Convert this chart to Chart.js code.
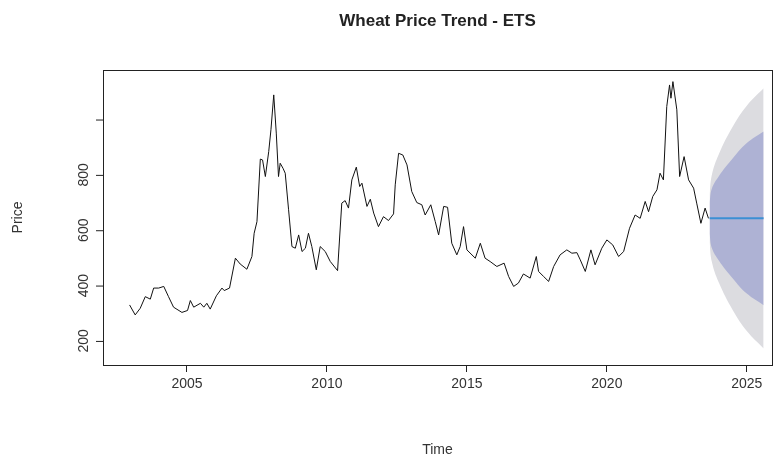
<!DOCTYPE html>
<html>
<head>
<meta charset="utf-8">
<script src="https://cdn.jsdelivr.net/npm/chart.js@4"></script>
<style>
  html, body { margin: 0; padding: 0; background: #fff; }
  canvas { display: block; }
</style>
</head>
<body>
<canvas id="c" width="778" height="461"></canvas>
<script>
/* ─── Data ─── */
const histYears = [2002.95,2003.15,2003.33,2003.51,2003.69,2003.81,2003.99,2004.17,2004.34,2004.52,2004.82,2005.02,2005.12,2005.24,2005.48,2005.6,2005.71,2005.83,2006.05,2006.25,2006.33,2006.52,2006.73,2006.9,2007.14,2007.32,2007.4,2007.5,2007.62,2007.7,2007.8,2007.92,2008.0,2008.1,2008.19,2008.27,2008.33,2008.43,2008.51,2008.63,2008.75,2008.87,2008.99,2009.11,2009.23,2009.34,2009.46,2009.62,2009.76,2009.94,2010.12,2010.38,2010.53,2010.65,2010.77,2010.89,2011.05,2011.17,2011.25,2011.43,2011.55,2011.67,2011.84,2012.02,2012.2,2012.38,2012.44,2012.56,2012.71,2012.86,2013.03,2013.21,2013.39,2013.51,2013.71,2013.87,2013.99,2014.17,2014.31,2014.46,2014.64,2014.76,2014.88,2015.0,2015.3,2015.48,2015.65,2015.83,2016.07,2016.33,2016.49,2016.67,2016.84,2017.02,2017.26,2017.48,2017.56,2017.74,2017.92,2018.1,2018.33,2018.57,2018.75,2018.93,2019.05,2019.23,2019.43,2019.58,2019.82,2020.0,2020.21,2020.42,2020.6,2020.81,2021.01,2021.19,2021.37,2021.49,2021.64,2021.79,2021.9,2022.02,2022.14,2022.24,2022.29,2022.36,2022.5,2022.6,2022.76,2022.92,2023.1,2023.21,2023.36,2023.51,2023.63];
const histPrice = [330,294,318,360,351,391,391,397,360,322,303,310,346,322,336,322,336,315,363,391,382,391,499,478,459,505,589,631,857,854,794,884,963,1089,951,794,842,824,806,674,541,535,583,523,535,589,541,457,541,523,487,454,698,707,680,782,828,758,770,686,712,662,613,649,635,659,764,878,872,836,740,700,692,655,692,631,583,686,683,553,511,541,613,529,499,553,499,487,469,481,433,397,409,442,427,505,451,433,415,469,511,529,517,519,493,451,529,475,535,565,547,505,523,607,655,643,704,667,722,746,806,782,1047,1125,1077,1137,1035,794,866,782,752,698,625,680,643];

const fcYears = [2023.67,2023.75,2024.0,2024.5,2025.0,2025.6];
const fcMean  = [643,643,643,643,643,643];
const hi80    = [700,750,795,860,915,957];
const lo80    = [586,536,491,426,371,329];
const hi95    = [730,800,875,975,1050,1113];
const lo95    = [556,486,411,311,236,173];

const xTicks = [2005,2010,2015,2020,2025];
const yTicks = [200,400,600,800,1000];
const yLabels = ['200','400','600','800',''];

const pts = (xs, ys) => xs.map((x, i) => ({ x, y: ys[i] }));
const FONT = "'Liberation Sans', Arial, sans-serif";

/* ─── R-style frame, title, rotated y labels ─── */
const rFrame = {
  id: 'rFrame',
  afterDraw(chart) {
    const { ctx, chartArea: a, scales: { y } } = chart;
    ctx.save();
    ctx.strokeStyle = '#222'; ctx.lineWidth = 1;
    ctx.strokeRect(a.left + 0.5, a.top + 0.5, a.right - a.left, a.bottom - a.top);
    ctx.fillStyle = '#222';
    ctx.font = `bold 17px ${FONT}`;
    ctx.textAlign = 'center'; ctx.textBaseline = 'middle';
    ctx.fillText('Wheat Price Trend - ETS', (a.left + a.right) / 2, 21);
    ctx.font = `14px ${FONT}`;
    ctx.fillStyle = '#333';
    ctx.fillText('Time', (a.left + a.right) / 2, 450);
    yTicks.forEach((v, i) => {
      const py = y.getPixelForValue(v);
      ctx.beginPath(); ctx.moveTo(a.left, py + 0.5); ctx.lineTo(a.left - 7, py + 0.5); ctx.stroke();
      if (!yLabels[i]) return;
      ctx.save(); ctx.translate(84, py); ctx.rotate(-Math.PI / 2);
      ctx.fillText(yLabels[i], 0, 0); ctx.restore();
    });
    ctx.save(); ctx.translate(18, (a.top + a.bottom) / 2); ctx.rotate(-Math.PI / 2);
    ctx.fillText('Price', 0, 0); ctx.restore();
    ctx.restore();
  }
};

new Chart(document.getElementById('c'), {
  type: 'line',
  data: {
    datasets: [
      { order: 4, data: pts(fcYears, hi95), borderWidth: 0, pointRadius: 0, fill: '+1', backgroundColor: '#dcdce0', tension: 0.4 },
      { order: 4, data: pts(fcYears, lo95), borderWidth: 0, pointRadius: 0, fill: false, tension: 0.4 },
      { order: 3, data: pts(fcYears, hi80), borderWidth: 0, pointRadius: 0, fill: '+1', backgroundColor: '#aeb2d4', tension: 0.4 },
      { order: 3, data: pts(fcYears, lo80), borderWidth: 0, pointRadius: 0, fill: false, tension: 0.4 },
      { order: 1, data: pts(fcYears, fcMean), borderColor: '#3b8fd4', borderWidth: 2, pointRadius: 0, fill: false },
      { order: 0, data: pts(histYears, histPrice), borderColor: '#111', borderWidth: 1, pointRadius: 0, fill: false, tension: 0 }
    ]
  },
  options: {
    responsive: false, animation: false,
    layout: { padding: { top: 70, right: 6, left: 0, bottom: 0 } },
    plugins: { legend: { display: false }, tooltip: { enabled: false } },
    scales: {
      x: {
        type: 'linear', min: 2002, max: 2025.9,
        afterBuildTicks: s => { s.ticks = xTicks.map(v => ({ value: v })); },
        afterFit: s => { s.height = 96; },
        grid: { drawOnChartArea: false, tickLength: 7, color: '#222' },
        border: { display: false },
        ticks: { color: '#333', font: { size: 14, family: FONT }, padding: 4, maxRotation: 0, callback: v => String(v) }
      },
      y: {
        min: 113, max: 1179,
        afterBuildTicks: s => { s.ticks = yTicks.map(v => ({ value: v })); },
        afterFit: s => { s.width = 103; },
        grid: { display: false },
        border: { display: false },
        ticks: { display: false }
      }
    }
  },
  plugins: [rFrame]
});
</script>
</body>
</html>
